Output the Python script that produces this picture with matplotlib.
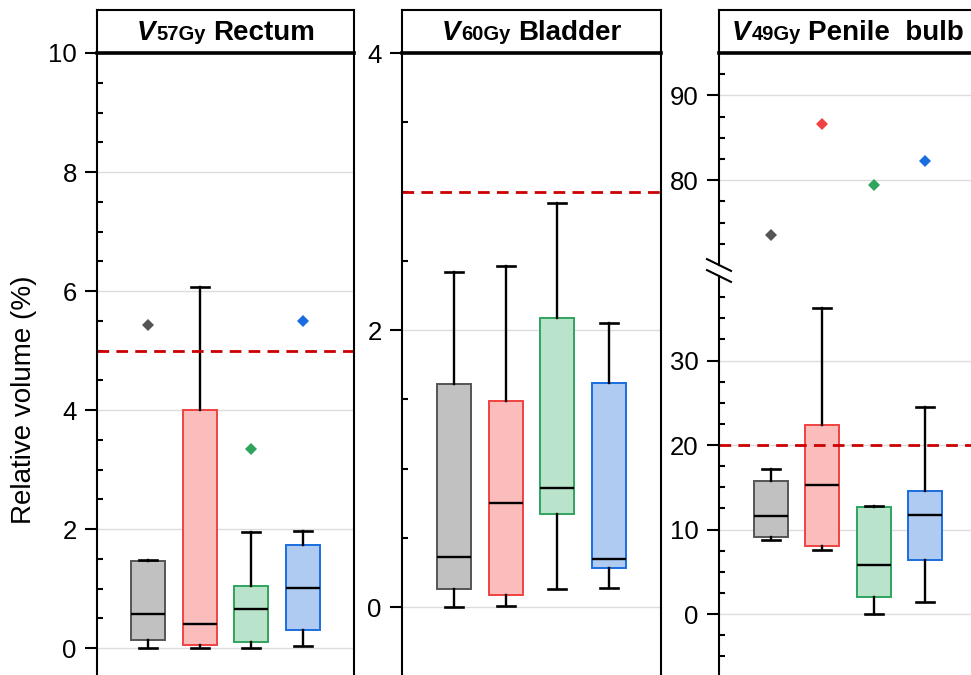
import numpy as np
import matplotlib.pyplot as plt
from matplotlib.ticker import MultipleLocator, FixedLocator
from matplotlib.offsetbox import TextArea, HPacker, AnnotationBbox

plt.rcParams["font.family"] = ["Liberation Sans", "DejaVu Sans"]

# box statistics (4 groups per organ)
rectum_whislo = [0.00, 0.00, 0.00, 0.04]
rectum_q1 = [0.14, 0.06, 0.10, 0.30]
rectum_med = [0.58, 0.41, 0.66, 1.01]
rectum_q3 = [1.46, 4.01, 1.05, 1.73]
rectum_whishi = [1.49, 6.07, 1.95, 1.97]
rectum_fliers = [[5.43], [], [3.34], [5.50]]

bladder_whislo = [0.00, 0.01, 0.13, 0.14]
bladder_q1 = [0.13, 0.09, 0.67, 0.28]
bladder_med = [0.36, 0.75, 0.86, 0.35]
bladder_q3 = [1.61, 1.49, 2.09, 1.62]
bladder_whishi = [2.42, 2.46, 2.92, 2.05]
bladder_fliers = [[], [], [], []]

bulb_whislo = [8.75, 7.57, 0.00, 1.38]
bulb_q1 = [9.14, 8.04, 2.05, 6.42]
bulb_med = [11.58, 15.33, 5.87, 11.78]
bulb_q3 = [15.72, 22.42, 12.68, 14.57]
bulb_whishi = [17.18, 36.25, 12.85, 24.55]
bulb_fliers = [[73.57], [86.65], [79.44], [82.28]]

constraints = [5, 3, 20]
titles = [("V", "57Gy", "Rectum"), ("V", "60Gy", "Bladder"), ("V", "49Gy", "Penile  bulb")]

edge_colors = ["#555555", "#f04242", "#2fa45e", "#1a6de0"]
face_colors = ["#c1c1c1", "#fbbcbc", "#b9e3ca", "#afcbf2"]
positions = [1, 2, 3, 4]

W, H = 971, 675


def rect(x0, x1, y0, y1):
    return [x0 / W, 1 - y1 / H, (x1 - x0) / W, (y1 - y0) / H]


def make_stats(lo, q1, med, q3, hi, fl):
    return [dict(whislo=lo[i], q1=q1[i], med=med[i], q3=q3[i], whishi=hi[i],
                 fliers=fl[i]) for i in range(len(med))]


def draw_boxes(ax, stats):
    bp = ax.bxp(
        stats, positions=positions, widths=0.66, capwidths=0.35,
        patch_artist=True, showfliers=True, manage_ticks=False,
        boxprops=dict(linewidth=1.4),
        whiskerprops=dict(color="black", linewidth=1.7),
        capprops=dict(color="black", linewidth=1.9),
        medianprops=dict(color="black", linewidth=1.7),
        flierprops=dict(marker="D", markersize=6.2, markeredgewidth=0),
    )
    for i, box in enumerate(bp["boxes"]):
        box.set_facecolor(face_colors[i])
        box.set_edgecolor(edge_colors[i])
    for i, fl in enumerate(bp["fliers"]):
        fl.set_markerfacecolor(edge_colors[i])
        fl.set_markeredgecolor(edge_colors[i])
    ax.set_xlim(0, 5)
    ax.set_xticks([])


def style_axis(ax):
    for s in ax.spines.values():
        s.set_linewidth(1.5)
        s.set_color("black")
    ax.spines["bottom"].set_visible(False)
    ax.tick_params(axis="y", which="major", direction="out", length=8.5,
                   width=1.5, labelsize=18.5, pad=6)
    ax.tick_params(axis="y", which="minor", direction="in", length=4.5,
                   width=1.5)
    ax.yaxis.grid(True, which="major", color="#dcdcdc", linewidth=1)
    ax.set_axisbelow(True)


def header(x0, x1, title):
    hx = fig.add_axes(rect(x0, x1, 10, 53))
    hx.set_xticks([])
    hx.set_yticks([])
    for s in hx.spines.values():
        s.set_linewidth(1.5)
    hx.spines["bottom"].set_linewidth(2.6)
    props = dict(fontsize=20, fontweight="bold")
    v = TextArea(title[0], textprops=dict(style="italic", **props))
    sub = TextArea(title[1], textprops=dict(fontsize=14.5, fontweight="bold"))
    name = TextArea(title[2], textprops=props)
    packed = HPacker(children=[HPacker(children=[v, sub], align="baseline", pad=0, sep=1),
                               name], align="baseline", pad=0, sep=5)
    ab = AnnotationBbox(packed, (0.5, 0.47), xycoords="axes fraction",
                        frameon=False, box_alignment=(0.5, 0.5))
    hx.add_artist(ab)
    return hx


fig = plt.figure(figsize=(W / 100, H / 100), dpi=100)

# Rectum
ax1 = fig.add_axes(rect(97, 354, 53, 675))
style_axis(ax1)
draw_boxes(ax1, make_stats(rectum_whislo, rectum_q1, rectum_med, rectum_q3,
                           rectum_whishi, rectum_fliers))
ax1.axhline(constraints[0], color="#cc0000", lw=2, ls=(0, (4.2, 2.6)))
ax1.set_ylim(-0.45, 10)
ax1.yaxis.set_major_locator(MultipleLocator(2))
ax1.yaxis.set_minor_locator(MultipleLocator(0.5))
header(97, 354, titles[0])

# Bladder
ax2 = fig.add_axes(rect(402, 661, 53, 675))
style_axis(ax2)
draw_boxes(ax2, make_stats(bladder_whislo, bladder_q1, bladder_med, bladder_q3,
                           bladder_whishi, bladder_fliers))
ax2.axhline(constraints[1], color="#cc0000", lw=2, ls=(0, (4.2, 2.6)))
ax2.set_ylim(-0.49, 4)
ax2.yaxis.set_major_locator(MultipleLocator(2))
ax2.yaxis.set_minor_locator(MultipleLocator(0.5))
header(402, 661, titles[1])

# Penile bulb, broken axis
bulb_stats = make_stats(bulb_whislo, bulb_q1, bulb_med, bulb_q3, bulb_whishi, bulb_fliers)
ax3u = fig.add_axes(rect(719, 977, 53, 265))
ax3l = fig.add_axes(rect(719, 977, 276, 675))
for ax in (ax3u, ax3l):
    style_axis(ax)
    draw_boxes(ax, bulb_stats)
ax3u.spines["bottom"].set_visible(False)
ax3l.spines["top"].set_visible(False)
ax3l.axhline(constraints[2], color="#cc0000", lw=2, ls=(0, (4.2, 2.6)))
ax3u.set_ylim(70, 95)
ax3l.set_ylim(-7.2, 40)
ax3u.yaxis.set_major_locator(FixedLocator([80, 90]))
ax3u.yaxis.set_minor_locator(FixedLocator(np.arange(72.5, 95, 2.5)))
ax3l.yaxis.set_major_locator(FixedLocator([0, 10, 20, 30]))
ax3l.yaxis.set_minor_locator(FixedLocator(np.arange(-5, 40, 2.5)))
header(719, 977, titles[2])

# break marks
dx = 12 / 258
ax3u.plot([-dx, dx], [5.9 / 212, -5.9 / 212], transform=ax3u.transAxes,
          color="black", lw=1.5, clip_on=False)
ax3l.plot([-dx, dx], [1 + 5.9 / 399, 1 - 5.9 / 399], transform=ax3l.transAxes,
          color="black", lw=1.5, clip_on=False)

fig.text(24 / W, 1 - 400 / H, "Relative volume (%)", rotation=90,
         ha="center", va="center", fontsize=20)

fig.savefig("out.png", dpi=100)
